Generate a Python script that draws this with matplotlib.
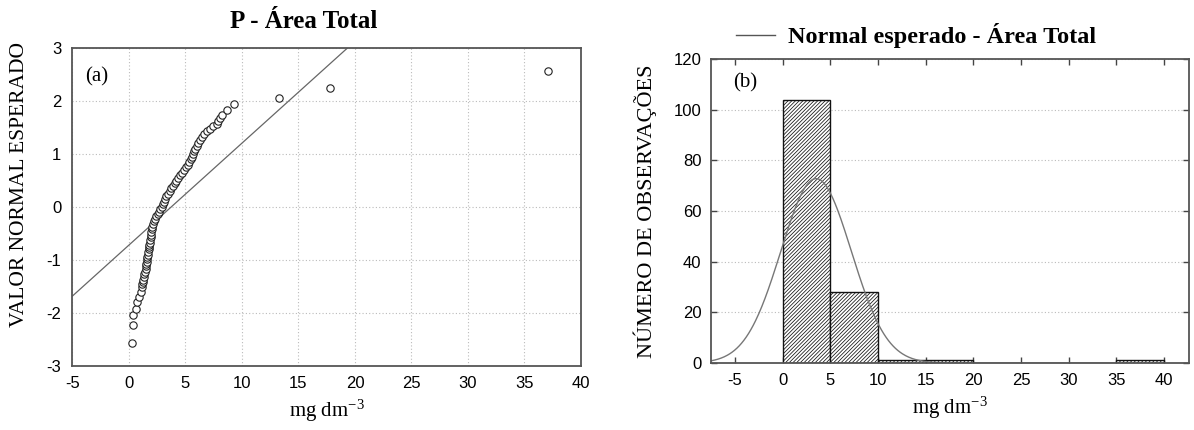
import numpy as np
import matplotlib
matplotlib.use('Agg')
import matplotlib.pyplot as plt

plt.rcParams['mathtext.fontset'] = 'stix'
plt.rcParams['axes.unicode_minus'] = False
plt.rcParams['hatch.linewidth'] = 0.55
plt.rcParams['hatch.color'] = '#3a3a3a'

SERIF = 'Liberation Serif'
SANS = 'Liberation Sans'

# (a) normal probability plot: observed value vs expected normal value
qq_x = [0.29, 0.35, 0.35, 0.62, 0.68, 0.91, 1.03, 1.12, 1.18, 1.22, 1.27, 1.32, 1.37,
        1.42, 1.47, 1.50, 1.53, 1.56, 1.60, 1.63, 1.66, 1.70, 1.74, 1.78, 1.81, 1.85,
        1.88, 1.91, 1.94, 1.97, 2.00, 2.03, 2.10, 2.18, 2.30, 2.42, 2.55, 2.65, 2.75,
        2.88, 2.98, 3.08, 3.18, 3.30, 3.45, 3.60, 3.75, 3.90, 4.05, 4.20, 4.35, 4.50,
        4.68, 4.85, 5.02, 5.18, 5.32, 5.45, 5.55, 5.65, 5.75, 5.85, 5.98, 6.12, 6.28,
        6.45, 6.65, 6.87, 7.15, 7.46, 7.75, 7.91, 8.05, 8.20, 8.64, 9.29, 13.3, 17.8, 37.1]
qq_y = [-2.57, -2.23, -2.04, -1.92, -1.80, -1.70, -1.60, -1.50, -1.45, -1.41, -1.37, -1.32, -1.27,
        -1.22, -1.17, -1.12, -1.07, -1.03, -0.98, -0.94, -0.90, -0.85, -0.80, -0.76, -0.72, -0.67,
        -0.62, -0.57, -0.52, -0.47, -0.42, -0.37, -0.32, -0.27, -0.22, -0.17, -0.13, -0.09, -0.04,
        0.00, 0.05, 0.10, 0.15, 0.20, 0.25, 0.30, 0.35, 0.40, 0.45, 0.50, 0.55, 0.60,
        0.65, 0.70, 0.75, 0.80, 0.85, 0.90, 0.95, 1.00, 1.05, 1.10, 1.15, 1.20, 1.26,
        1.32, 1.38, 1.43, 1.48, 1.52, 1.57, 1.62, 1.68, 1.74, 1.83, 1.94, 2.05, 2.24, 2.57]
qq_mean = 3.73
qq_sd = 5.2

# (b) histogram
bin_edges = [0, 5, 10, 15, 20, 25, 30, 35, 40]
bin_counts = [104, 28, 1, 1, 0, 0, 0, 1]
n_obs = 135
hist_mean = 3.5
hist_sd = 3.7

fig = plt.figure(figsize=(11.94, 4.30), dpi=100)

# ---------- panel (a)
ax1 = fig.add_axes([0.0607, 0.1488, 0.4259, 0.7395])
ax1.set_xlim(-5, 40)
ax1.set_ylim(-3, 3)
ax1.set_xticks(range(-5, 41, 5))
ax1.set_yticks(range(-3, 4))
ax1.grid(True, color='#bbbbbb', linestyle=(0, (1, 2)), linewidth=0.8)
ax1.set_axisbelow(True)
ax1.tick_params(length=0, labelsize=12, pad=7)
ax1.tick_params(axis='y', pad=8)
for lab in ax1.get_xticklabels() + ax1.get_yticklabels():
    lab.set_fontfamily(SANS)
for s in ax1.spines.values():
    s.set_color('#555555')
    s.set_linewidth(1.3)

lx = np.array(ax1.get_xlim())
ax1.plot(lx, (lx - qq_mean) / qq_sd, color='#666666', lw=0.9)
ax1.plot(qq_x, qq_y, linestyle='none', marker='o', markersize=5.3,
         markerfacecolor='white', markeredgecolor='#222222', markeredgewidth=0.8)

ax1.text(0.025, 0.91, '(a)', transform=ax1.transAxes, family=SERIF, fontsize=15,
         va='center', ha='left')
ax1.set_ylabel('VALOR NORMAL ESPERADO', family=SERIF, fontsize=15.5)
ax1.yaxis.set_label_coords(-0.085, 0.57)
ax1.set_xlabel(r'mg dm$^{\mathregular{-3}}$', family=SERIF, fontsize=15, labelpad=5)
fig.text(304 / 1194, 1 - 22 / 430, 'P - Área Total', family=SERIF, fontsize=18,
         fontweight='bold', ha='center', va='center')

# ---------- panel (b)
ax2 = fig.add_axes([0.5955, 0.1558, 0.4003, 0.707])
ax2.set_xlim(-7.52, 42.62)
ax2.set_ylim(0, 120)
ax2.set_xticks(range(-5, 41, 5))
ax2.set_yticks(range(0, 121, 20))
ax2.yaxis.grid(True, color='#bbbbbb', linestyle=(0, (1, 2)), linewidth=0.8)
ax2.set_axisbelow(True)
ax2.tick_params(direction='in', length=4, width=1, color='#444444',
                top=True, right=True, labelsize=12, pad=7)
for lab in ax2.get_xticklabels() + ax2.get_yticklabels():
    lab.set_fontfamily(SANS)
for s in ax2.spines.values():
    s.set_color('#555555')
    s.set_linewidth(1.3)

ax2.bar(bin_edges[:-1], bin_counts, width=np.diff(bin_edges), align='edge',
        facecolor='white', edgecolor='#111111', linewidth=1.0, hatch='/////////')

cx = np.linspace(-7.52, 17, 300)
cy = n_obs * 5 / (hist_sd * np.sqrt(2 * np.pi)) * np.exp(-0.5 * ((cx - hist_mean) / hist_sd) ** 2)
ax2.plot(cx, cy, color='#777777', lw=1.0)

ax2.text(0.047, 0.92, '(b)', transform=ax2.transAxes, family=SERIF, fontsize=15,
         va='center', ha='left')
ax2.set_ylabel('NÚMERO DE OBSERVAÇÕES', family=SERIF, fontsize=16, labelpad=12)
ax2.set_xlabel(r'mg dm$^{\mathregular{-3}}$', family=SERIF, fontsize=15, labelpad=5)

# legend-like title
fig.add_artist(plt.Line2D([736 / 1194, 775 / 1194], [1 - 35 / 430, 1 - 35 / 430],
                          color='#555555', lw=1.0))
fig.text(942 / 1194, 1 - 36 / 430, 'Normal esperado - Área Total', family=SERIF,
         fontsize=17.5, fontweight='bold', ha='center', va='center')

fig.savefig('out.png', dpi=100)
